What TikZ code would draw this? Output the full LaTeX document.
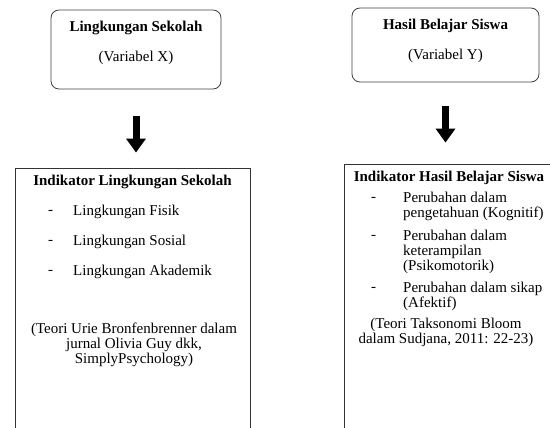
\documentclass[tikz,border=0pt]{standalone}
\usepackage{fontspec}
\setmainfont{Liberation Serif}
\usetikzlibrary{positioning, arrows.meta}

\begin{document}
\begin{tikzpicture}[
  x=1pt, y=-1pt,
  every node/.style={
    inner sep=0mm,
    font=\fontsize{15}{15}\selectfont
  },
  varbox/.style={draw=black!75, line width=0.8pt, rounded corners=8pt},
  indbox/.style={draw=black!80, line width=0.8pt},
  head/.style={font=\fontsize{15}{15}\selectfont\bfseries},
  dashmark/.style={anchor=west},
  item/.style={anchor=west, align=left},
  cite/.style={align=center},
  bigarrow/.style={line width=7pt, -{Triangle[width=19pt,length=14pt]}},
]
\useasboundingbox (0,0) rectangle (550,428);

% variable boxes
\node[varbox, minimum width=170pt, minimum height=79pt] (varX) at (136,49.5) {};
\node[head] (varXtitle) at (136,28) {Lingkungan Sekolah};
\node (varXname) at (136,58) {(Variabel X)};

\node[varbox, minimum width=187pt, minimum height=74pt] (varY) at (445.5,45) {};
\node[head] (varYtitle) at (445.5,26) {Hasil Belajar Siswa};
\node (varYname) at (445.5,56) {(Variabel Y)};

% indicator boxes
\node[indbox, minimum width=235pt, minimum height=272pt] (indX) at (132.5,304) {};
\node[head] (indXtitle) at (132.5,182) {Indikator Lingkungan Sekolah};
\node[dashmark] (indXd1) at (48,212) {-};
\node[item] (indXi1) at (73,212) {Lingkungan Fisik};
\node[dashmark] (indXd2) at (48,242) {-};
\node[item] (indXi2) at (73,242) {Lingkungan Sosial};
\node[dashmark] (indXd3) at (48,272) {-};
\node[item] (indXi3) at (73,272) {Lingkungan Akademik};
\node[cite] (indXcite) at (134,345) {(Teori Urie Bronfenbrenner dalam\\jurnal Olivia Guy dkk,\\SimplyPsychology)};

\node[indbox, minimum width=226pt, minimum height=276pt] (indY) at (457,302) {};
\node[head] (indYtitle) at (449,178) {Indikator Hasil Belajar Siswa};
\node[dashmark] (indYd1) at (371,199) {-};
\node[item] (indYi1) at (403,206.5) {Perubahan dalam\\pengetahuan (Kognitif)};
\node[dashmark] (indYd2) at (371,237) {-};
\node[item] (indYi2) at (403,252) {Perubahan dalam\\keterampilan\\(Psikomotorik)};
\node[dashmark] (indYd3) at (371,289) {-};
\node[item] (indYi3) at (403,296.5) {Perubahan dalam sikap\\(Afektif)};
\node[cite] (indYcite) at (446,332.5) {(Teori Taksonomi Bloom\\dalam Sudjana, 2011: 22-23)};

% arrows
\draw[bigarrow, shorten <=27pt, shorten >=15pt] (varX.south) -- (varX.south |- indX.north);
\draw[bigarrow, shorten <=24pt, shorten >=21pt] (varY.south) -- (varY.south |- indY.north);

\end{tikzpicture}
\end{document}
